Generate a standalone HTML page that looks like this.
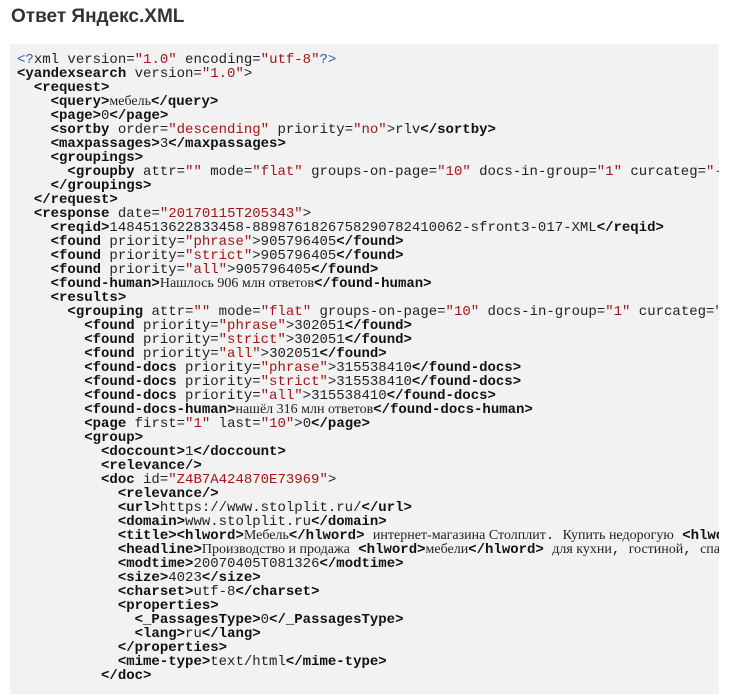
<!DOCTYPE html>
<html><head><meta charset="utf-8"><style>
body{margin:0;background:#fff;width:739px;height:682px;overflow:hidden;}
h1{position:absolute;left:11px;top:6px;margin:0;font:bold 19px "Liberation Sans",sans-serif;color:#333;}
.box{position:absolute;left:10px;top:44px;width:709px;height:650px;background:#f2f2f2;overflow:hidden;}
pre{margin:0;padding:9px 0 0 7px;font:14px/14px "Liberation Mono",monospace;color:#222;white-space:pre;}
b{font-weight:bold;color:#111}
.s{color:#a31515}
.p{color:#2a5db0}
.c{font-family:"Liberation Serif",serif;}
</style></head><body>
<h1>Ответ Яндекс.XML</h1>
<div class="box"><pre><span class="p">&lt;?</span>xml version=<span class="s">"1.0"</span> encoding=<span class="s">"utf-8"</span><span class="p">?&gt;</span>
<b>&lt;yandexsearch</b> version=<span class="s">"1.0"</span>&gt;
  <b>&lt;request&gt;</b>
    <b>&lt;query&gt;</b><span class="c">мебель</span><b>&lt;/query&gt;</b>
    <b>&lt;page&gt;</b>0<b>&lt;/page&gt;</b>
    <b>&lt;sortby</b> order=<span class="s">"descending"</span> priority=<span class="s">"no"</span>&gt;rlv<b>&lt;/sortby&gt;</b>
    <b>&lt;maxpassages&gt;</b>3<b>&lt;/maxpassages&gt;</b>
    <b>&lt;groupings&gt;</b>
      <b>&lt;groupby</b> attr=<span class="s">""</span> mode=<span class="s">"flat"</span> groups-on-page=<span class="s">"10"</span> docs-in-group=<span class="s">"1"</span> curcateg=<span class="s">"-1"</span>/&gt;
    <b>&lt;/groupings&gt;</b>
  <b>&lt;/request&gt;</b>
  <b>&lt;response</b> date=<span class="s">"20170115T205343"</span>&gt;
    <b>&lt;reqid&gt;</b>1484513622833458-8898761826758290782410062-sfront3-017-XML<b>&lt;/reqid&gt;</b>
    <b>&lt;found</b> priority=<span class="s">"phrase"</span>&gt;905796405<b>&lt;/found&gt;</b>
    <b>&lt;found</b> priority=<span class="s">"strict"</span>&gt;905796405<b>&lt;/found&gt;</b>
    <b>&lt;found</b> priority=<span class="s">"all"</span>&gt;905796405<b>&lt;/found&gt;</b>
    <b>&lt;found-human&gt;</b><span class="c">Нашлось 906 млн ответов</span><b>&lt;/found-human&gt;</b>
    <b>&lt;results&gt;</b>
      <b>&lt;grouping</b> attr=<span class="s">""</span> mode=<span class="s">"flat"</span> groups-on-page=<span class="s">"10"</span> docs-in-group=<span class="s">"1"</span> curcateg=<span class="s">"-1"</span>&gt;
        <b>&lt;found</b> priority=<span class="s">"phrase"</span>&gt;302051<b>&lt;/found&gt;</b>
        <b>&lt;found</b> priority=<span class="s">"strict"</span>&gt;302051<b>&lt;/found&gt;</b>
        <b>&lt;found</b> priority=<span class="s">"all"</span>&gt;302051<b>&lt;/found&gt;</b>
        <b>&lt;found-docs</b> priority=<span class="s">"phrase"</span>&gt;315538410<b>&lt;/found-docs&gt;</b>
        <b>&lt;found-docs</b> priority=<span class="s">"strict"</span>&gt;315538410<b>&lt;/found-docs&gt;</b>
        <b>&lt;found-docs</b> priority=<span class="s">"all"</span>&gt;315538410<b>&lt;/found-docs&gt;</b>
        <b>&lt;found-docs-human&gt;</b><span class="c">нашёл 316 млн ответов</span><b>&lt;/found-docs-human&gt;</b>
        <b>&lt;page</b> first=<span class="s">"1"</span> last=<span class="s">"10"</span>&gt;0<b>&lt;/page&gt;</b>
        <b>&lt;group&gt;</b>
          <b>&lt;doccount&gt;</b>1<b>&lt;/doccount&gt;</b>
          <b>&lt;relevance/&gt;</b>
          <b>&lt;doc</b> id=<span class="s">"Z4B7A424870E73969"</span>&gt;
            <b>&lt;relevance/&gt;</b>
            <b>&lt;url&gt;</b>https://www.stolplit.ru/<b>&lt;/url&gt;</b>
            <b>&lt;domain&gt;</b>www.stolplit.ru<b>&lt;/domain&gt;</b>
            <b>&lt;title&gt;</b><b>&lt;hlword&gt;</b><span class="c">Мебель</span><b>&lt;/hlword&gt;</b> <span class="c">интернет-магазина Столплит</span>. <span class="c">Купить недорогую</span> <b>&lt;hlword&gt;</b>
            <b>&lt;headline&gt;</b><span class="c">Производство и продажа</span> <b>&lt;hlword&gt;</b><span class="c">мебели</span><b>&lt;/hlword&gt;</b> <span class="c">для кухни</span>, <span class="c">гостиной</span>, <span class="c">спальни</span>
            <b>&lt;modtime&gt;</b>20070405T081326<b>&lt;/modtime&gt;</b>
            <b>&lt;size&gt;</b>4023<b>&lt;/size&gt;</b>
            <b>&lt;charset&gt;</b>utf-8<b>&lt;/charset&gt;</b>
            <b>&lt;properties&gt;</b>
              <b>&lt;_PassagesType&gt;</b>0<b>&lt;/_PassagesType&gt;</b>
              <b>&lt;lang&gt;</b>ru<b>&lt;/lang&gt;</b>
            <b>&lt;/properties&gt;</b>
            <b>&lt;mime-type&gt;</b>text/html<b>&lt;/mime-type&gt;</b>
          <b>&lt;/doc&gt;</b>
</pre></div>
</body></html>
